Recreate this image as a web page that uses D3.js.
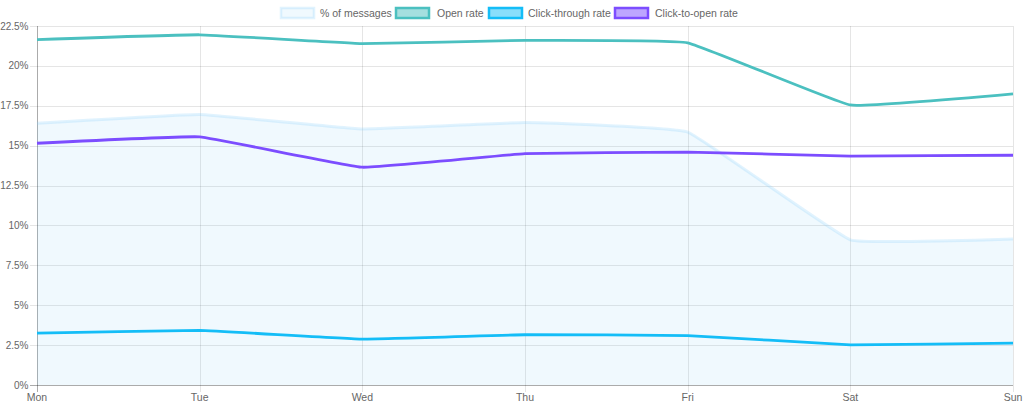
<!DOCTYPE html>
<html><head><meta charset="utf-8">
<script src="https://cdn.jsdelivr.net/npm/d3@7"></script>
<style>body{margin:0;background:#fff;}svg{display:block;font-family:"Liberation Sans",Arial,sans-serif;}</style>
</head><body><svg id="c" width="1024" height="409"></svg>
<script>
const days = ["Mon","Tue","Wed","Thu","Fri","Sat","Sun"];
const pctMessages = [16.4, 16.95, 16.05, 16.45, 15.85, 9.1, 9.15];
const openRate = [21.65, 21.95, 21.4, 21.6, 21.45, 17.55, 18.25];
const clickThrough = [3.25, 3.42, 2.88, 3.15, 3.1, 2.52, 2.63];
const clickToOpen = [15.15, 15.55, 13.65, 14.5, 14.6, 14.35, 14.4];
const yTicks = [0, 2.5, 5, 7.5, 10, 12.5, 15, 17.5, 20, 22.5];
const legendLabels = ["% of messages","Open rate","Click-through rate","Click-to-open rate"];

const svg = d3.select("#c");
const x = d3.scalePoint().domain(days).range([37, 1013]);
const y = d3.scaleLinear().domain([0, 22.5]).range([385, 26]);
const FS = 10.5;

// grid
const g = svg.append("g");
g.selectAll(".hg").data(yTicks).join("line")
  .attr("x1", 30).attr("x2", 1013)
  .attr("y1", d => Math.round(y(d)) + 0.5).attr("y2", d => Math.round(y(d)) + 0.5)
  .attr("stroke", "rgba(0,0,0,0.1)");
g.selectAll(".vg").data(days).join("line")
  .attr("x1", d => Math.round(x(d)) + 0.5).attr("x2", d => Math.round(x(d)) + 0.5)
  .attr("y1", 26).attr("y2", 392)
  .attr("stroke", "rgba(0,0,0,0.1)");
// axis lines
svg.append("line").attr("x1", 37.5).attr("x2", 37.5).attr("y1", 26).attr("y2", 392).attr("stroke", "rgba(0,0,0,0.25)");
svg.append("line").attr("x1", 30).attr("x2", 1013).attr("y1", 385.5).attr("y2", 385.5).attr("stroke", "rgba(0,0,0,0.25)");

// tick labels
svg.selectAll(".yl").data(yTicks).join("text")
  .attr("x", 28.5).attr("y", d => y(d)).attr("dy", "0.35em")
  .attr("text-anchor", "end").attr("font-size", 10).attr("fill", "#666")
  .text(d => d + "%");
svg.selectAll(".xl").data(days).join("text")
  .attr("x", d => x(d)).attr("y", 401)
  .attr("text-anchor", "middle").attr("font-size", FS).attr("fill", "#666")
  .text(d => d);

const curve = d3.curveCardinal.tension(0.75);
const line = d3.line().x((d, i) => x(days[i])).y(d => y(d)).curve(curve);
const area = d3.area().x((d, i) => x(days[i])).y0(y(0)).y1(d => y(d)).curve(curve);

svg.append("path").attr("d", area(pctMessages)).attr("fill", "rgba(135,206,250,0.12)");
svg.append("path").attr("d", line(pctMessages)).attr("fill", "none").attr("stroke", "rgba(135,206,250,0.25)").attr("stroke-width", 3);

const series = [
  {v: openRate, c: "#4bc0c0"},
  {v: clickThrough, c: "#14bdf7"},
  {v: clickToOpen, c: "#7c4dff"}
];
series.forEach(s => {
  svg.append("path").attr("d", line(s.v)).attr("fill", "none").attr("stroke", s.c).attr("stroke-width", 2.8);
});

// legend
const legend = [
  {x: 281, tx: 320, fill: "rgba(135,206,250,0.12)", stroke: "rgba(135,206,250,0.25)"},
  {x: 396, tx: 437, fill: "rgba(75,192,192,0.5)", stroke: "#4bc0c0"},
  {x: 489, tx: 528, fill: "rgba(20,189,247,0.5)", stroke: "#14bdf7"},
  {x: 615, tx: 655, fill: "rgba(124,77,255,0.5)", stroke: "#7c4dff"}
];
legend.forEach((l, i) => {
  svg.append("rect").attr("x", l.x).attr("y", 8).attr("width", 33).attr("height", 10)
    .attr("fill", l.fill).attr("stroke", l.stroke).attr("stroke-width", 2.5);
  svg.append("text").attr("x", l.tx).attr("y", 13).attr("dy", "0.35em")
    .attr("font-size", FS).attr("fill", "#666").text(legendLabels[i]);
});
</script></body></html>
